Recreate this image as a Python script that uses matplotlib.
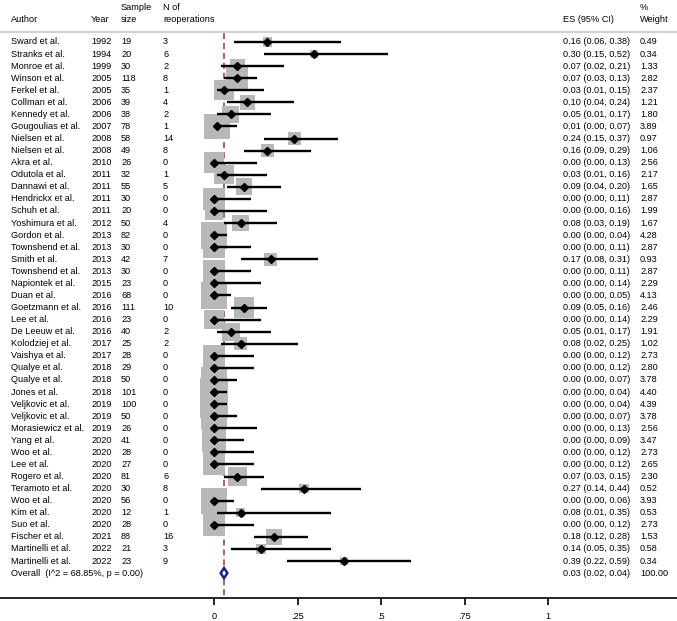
import matplotlib
matplotlib.use("Agg")
import matplotlib.pyplot as plt
from matplotlib.patches import Polygon

plt.rcParams['font.family'] = ['Liberation Sans', 'DejaVu Sans']

authors = ["Sward et al.", "Stranks et al.", "Monroe et al.", "Winson et al.", "Ferkel et al.",
           "Collman et al.", "Kennedy et al.", "Gougoulias et al.", "Nielsen et al.", "Nielsen et al.",
           "Akra et al.", "Odutola et al.", "Dannawi et al.", "Hendrickx et al.", "Schuh et al.",
           "Yoshimura et al.", "Gordon et al.", "Townshend et al.", "Smith et al.", "Townshend et al.",
           "Napiontek et al.", "Duan et al.", "Goetzmann et al.", "Lee et al.", "De Leeuw et al.",
           "Kolodziej et al.", "Vaishya et al.", "Qualye et al.", "Qualye et al.", "Jones et al.",
           "Veljkovic et al.", "Veljkovic et al.", "Morasiewicz et al.", "Yang et al.", "Woo et al.",
           "Lee et al.", "Rogero et al.", "Teramoto et al.", "Woo et al.", "Kim et al.",
           "Suo et al.", "Fischer et al.", "Martinelli et al.", "Martinelli et al."]
years = [1992, 1994, 1999, 2005, 2005, 2006, 2006, 2007, 2008, 2008,
         2010, 2011, 2011, 2011, 2011, 2012, 2013, 2013, 2013, 2013,
         2015, 2016, 2016, 2016, 2016, 2017, 2017, 2018, 2018, 2018,
         2019, 2019, 2019, 2020, 2020, 2020, 2020, 2020, 2020, 2020,
         2020, 2021, 2022, 2022]
sample_sizes = [19, 20, 30, 118, 35, 39, 38, 78, 58, 49,
                26, 32, 55, 30, 20, 50, 82, 30, 42, 30,
                23, 68, 111, 23, 40, 25, 28, 29, 50, 101,
                100, 50, 26, 41, 28, 27, 81, 30, 56, 12,
                28, 88, 21, 23]
n_reop = [3, 6, 2, 8, 1, 4, 2, 1, 14, 8,
          0, 1, 5, 0, 0, 4, 0, 0, 7, 0,
          0, 0, 10, 0, 2, 2, 0, 0, 0, 0,
          0, 0, 0, 0, 0, 0, 6, 8, 0, 1,
          0, 16, 3, 9]
es = [0.16, 0.30, 0.07, 0.07, 0.03, 0.10, 0.05, 0.01, 0.24, 0.16,
      0.00, 0.03, 0.09, 0.00, 0.00, 0.08, 0.00, 0.00, 0.17, 0.00,
      0.00, 0.00, 0.09, 0.00, 0.05, 0.08, 0.00, 0.00, 0.00, 0.00,
      0.00, 0.00, 0.00, 0.00, 0.00, 0.00, 0.07, 0.27, 0.00, 0.08,
      0.00, 0.18, 0.14, 0.39]
ci_low = [0.06, 0.15, 0.02, 0.03, 0.01, 0.04, 0.01, 0.00, 0.15, 0.09,
          0.00, 0.01, 0.04, 0.00, 0.00, 0.03, 0.00, 0.00, 0.08, 0.00,
          0.00, 0.00, 0.05, 0.00, 0.01, 0.02, 0.00, 0.00, 0.00, 0.00,
          0.00, 0.00, 0.00, 0.00, 0.00, 0.00, 0.03, 0.14, 0.00, 0.01,
          0.00, 0.12, 0.05, 0.22]
ci_high = [0.38, 0.52, 0.21, 0.13, 0.15, 0.24, 0.17, 0.07, 0.37, 0.29,
           0.13, 0.16, 0.20, 0.11, 0.16, 0.19, 0.04, 0.11, 0.31, 0.11,
           0.14, 0.05, 0.16, 0.14, 0.17, 0.25, 0.12, 0.12, 0.07, 0.04,
           0.04, 0.07, 0.13, 0.09, 0.12, 0.12, 0.15, 0.44, 0.06, 0.35,
           0.12, 0.28, 0.35, 0.59]
weights = [0.49, 0.34, 1.33, 2.82, 2.37, 1.21, 1.80, 3.89, 0.97, 1.06,
           2.56, 2.17, 1.65, 2.87, 1.99, 1.67, 4.28, 2.87, 0.93, 2.87,
           2.29, 4.13, 2.46, 2.29, 1.91, 1.02, 2.73, 2.80, 3.78, 4.40,
           4.39, 3.78, 2.56, 3.47, 2.73, 2.65, 2.30, 0.52, 3.93, 0.53,
           2.73, 1.53, 0.58, 0.34]
overall_es, overall_lo, overall_hi = 0.03, 0.02, 0.04
overall_label = "Overall  (I^2 = 68.85%, p = 0.00)"
xticks = [0, 0.25, 0.5, 0.75, 1]
xticklabels = ["0", ".25", ".5", ".75", "1"]

fig = plt.figure(figsize=(6.77, 6.21), dpi=100)
ax = fig.add_axes([0, 0, 1, 1])

n = len(authors)
rows = list(range(n))
overall_row = n
px_per_unit = 334.0
x0_px = 214.0
row_px = 12.07
top_row_px = 42.0

def xd(px):
    return (px - x0_px) / px_per_unit

def yd(py):
    return (py - top_row_px) / row_px

ax.set_xlim(xd(0), xd(677))
ax.set_ylim(yd(621), yd(0))

fs = 6.6
# Column positions
col_author, col_year, col_size, col_reop = xd(11), xd(91), xd(121), xd(163)
col_es, col_w = xd(563), xd(640)

# headers
hy1, hy2 = yd(7.5), yd(19)
ax.text(col_author, hy2, "Author", fontsize=fs, va='center', ha='left')
ax.text(col_year, hy2, "Year", fontsize=fs, va='center', ha='left')
ax.text(col_size, hy1, "Sample", fontsize=fs, va='center', ha='left')
ax.text(col_size, hy2, "size", fontsize=fs, va='center', ha='left')
ax.text(col_reop, hy1, "N of", fontsize=fs, va='center', ha='left')
ax.text(col_reop, hy2, "reoperations", fontsize=fs, va='center', ha='left')
ax.text(col_es, hy2, "ES (95% CI)", fontsize=fs, va='center', ha='left')
ax.text(col_w, hy1, "%", fontsize=fs, va='center', ha='left')
ax.text(col_w, hy2, "Weight", fontsize=fs, va='center', ha='left')
ax.axhline(yd(32), color='#c8c8c8', lw=1.2, zorder=1)

# reference dashed line
ax.plot([overall_es, overall_es], [yd(33), yd(598)], color='#a8323e', lw=1.1,
        dashes=(4, 2.5), zorder=1)

# boxes
ax.scatter(es, rows, s=[88 * w for w in weights], marker='s', color='#b8b8b8',
           edgecolors='none', zorder=2)
# CIs
ax.hlines(rows, ci_low, ci_high, color='black', lw=1.7, zorder=3)
ax.plot(es, rows, linestyle='none', marker='D', ms=4.2, color='black', zorder=4)

# overall diamond
dh = 0.42
diamond = Polygon([[overall_lo, overall_row], [overall_es, overall_row - dh],
                   [overall_hi, overall_row], [overall_es, overall_row + dh]],
                  closed=True, facecolor='white', edgecolor='#1a237e', lw=1.8, zorder=5)
ax.add_patch(diamond)

# row texts
for i in rows:
    ax.text(col_author, i, authors[i], fontsize=fs, va='center', ha='left')
    ax.text(col_year, i, str(years[i]), fontsize=fs, va='center', ha='left')
    ax.text(col_size, i, str(sample_sizes[i]), fontsize=fs, va='center', ha='left')
    ax.text(col_reop, i, str(n_reop[i]), fontsize=fs, va='center', ha='left')
    ax.text(col_es, i, f"{es[i]:.2f} ({ci_low[i]:.2f}, {ci_high[i]:.2f})",
            fontsize=fs, va='center', ha='left')
    ax.text(col_w, i, f"{weights[i]:.2f}", fontsize=fs, va='center', ha='left')

ax.text(col_author, overall_row, overall_label, fontsize=fs, va='center', ha='left')
ax.text(col_es, overall_row, f"{overall_es:.2f} ({overall_lo:.2f}, {overall_hi:.2f})",
        fontsize=fs, va='center', ha='left')
ax.text(col_w, overall_row, "100.00", fontsize=fs, va='center', ha='left')

# axis
for side in ['top', 'left', 'right']:
    ax.spines[side].set_visible(False)
ax.spines['bottom'].set_position(('data', yd(598)))
ax.spines['bottom'].set_linewidth(1.2)
ax.set_xticks(xticks)
ax.set_xticklabels(xticklabels, fontsize=fs)
ax.tick_params(axis='x', direction='out', length=5, width=1.2, pad=5)
ax.set_yticks([])
ax.patch.set_alpha(0)

fig.savefig("out.png", dpi=100, facecolor='white')
